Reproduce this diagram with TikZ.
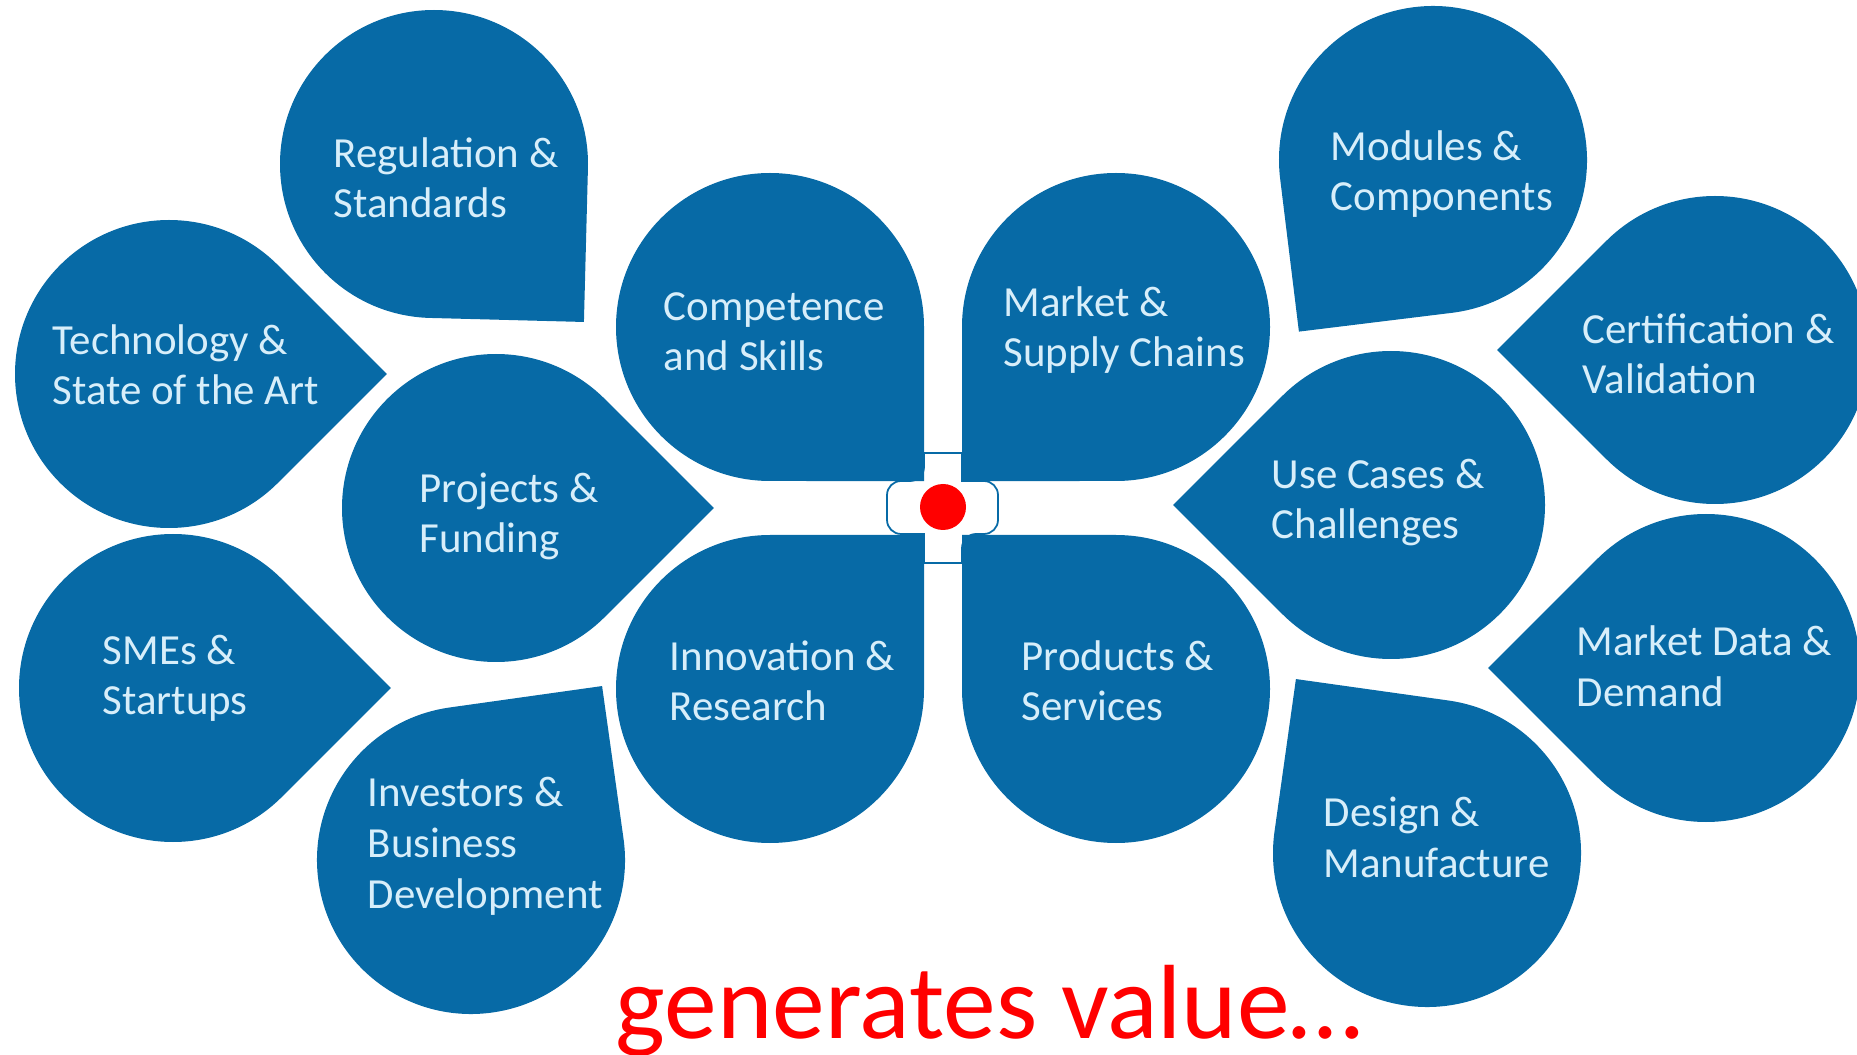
\documentclass[tikz,border=0pt]{standalone}
\usepackage{fontspec}
\setmainfont{Carlito}
\definecolor{petalblue}{RGB}{7,106,166}
\definecolor{petaltext}{RGB}{215,238,250}
% one teardrop: centre, direction of the corner
\newcommand{\petal}[2]{\fill[petal, shift={#1}] ({#2+45}:154) arc[start angle={#2+45}, end angle={#2+315}, radius=154] -- (#2:217.8) -- cycle;}
\begin{document}
\begin{tikzpicture}[x=0.01cm, y=-0.01cm,
		petal/.style={fill=petalblue},
		txt/.style={anchor=base west, align=left, inner sep=0pt, text=petaltext, font=\fontsize{12.2}{14.5}\selectfont}]
	\useasboundingbox (0,0) rectangle (1857,1055);
	% hub behind the four inner petals
	\draw[petalblue, fill=white, line width=0.5pt] (924,453) -- (962,453) -- (962,481)
		{[rounded corners=4] -- (998,481) -- (998,534) -- (962,534)} -- (962,563) -- (924,563) -- (924,534)
		{[rounded corners=4] -- (887,534) -- (887,481) -- (924,481)} -- cycle;
	% inner petals
	\petal{(770,327)}{45}
	\petal{(1116,327)}{135}
	\petal{(770,689)}{-45}
	\petal{(1116,689)}{-135}
	% left petals
	\petal{(434,164)}{46.5}
	\petal{(169,374)}{0}
	\petal{(496,508)}{0}
	\petal{(173,688)}{0}
	\petal{(471,860)}{-53}
	% right petals
	\petal{(1433,160)}{128}
	\petal{(1715,350)}{180}
	\petal{(1391,505)}{180}
	\petal{(1706,668)}{180}
	\petal{(1427,853)}{-127}
	\fill[red] (943,507) circle[radius=23];
	% labels (placed at the baseline of their last line)
	\node[txt] at (663,371) (comp) {Competence\\and Skills};
	\node[txt] at (1003,367) (mark) {Market \&\\Supply Chains};
	\node[txt] at (669,721) (innov) {Innovation \&\\Research};
	\node[txt] at (1021,721) (prod) {Products \&\\Services};
	\node[txt] at (333,218) (reg) {Regulation \&\\Standards};
	\node[txt] at (52,405) (tech) {Technology \&\\State of the Art};
	\node[txt] at (419,553) (proj) {Projects \&\\Funding};
	\node[txt] at (102,715) (smes) {SMEs \&\\Startups};
	\node[txt] at (367,908) (inv) {Investors \&\\Business\\Development};
	\node[txt] at (1330,211) (mod) {Modules \&\\Components};
	\node[txt] at (1582,394) (cert) {Certification \&\\Validation};
	\node[txt] at (1271,539) (use) {Use Cases \&\\Challenges};
	\node[txt] at (1576,706) (data) {Market Data \&\\Demand};
	\node[txt] at (1323,877) (design) {Design \&\\Manufacture};
	\node[anchor=base west, inner sep=0pt, text=red, font=\fontsize{30}{36}\selectfont] at (615,1038) (value) {generates value…};
\end{tikzpicture}
\end{document}
